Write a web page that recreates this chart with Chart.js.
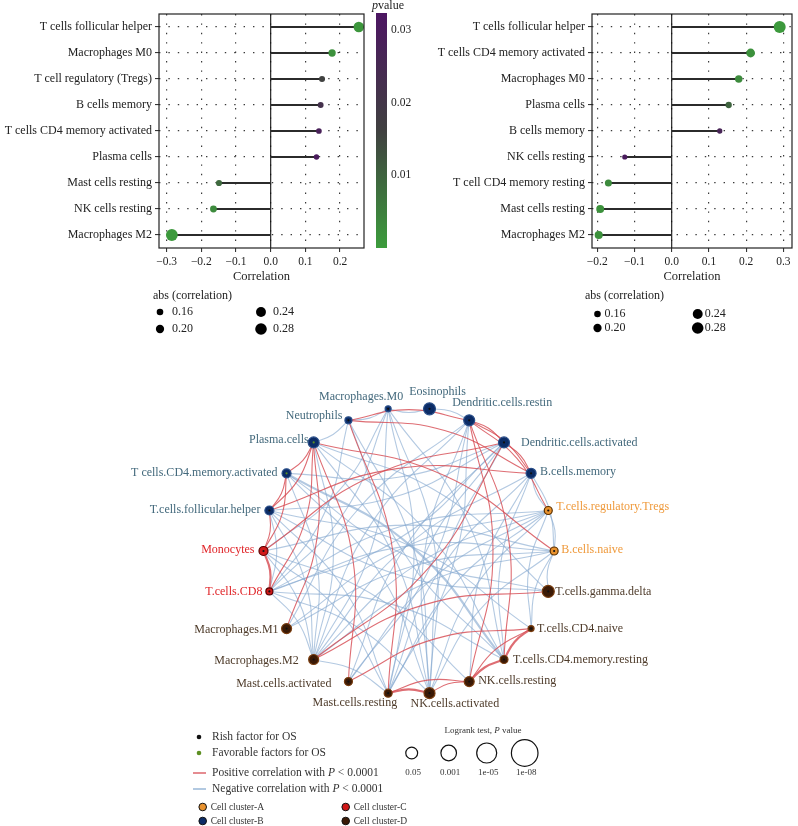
<!DOCTYPE html>
<html><head><meta charset="utf-8">
<script src="https://cdn.jsdelivr.net/npm/chart.js@4/dist/chart.umd.min.js"></script>
<style>
html,body{margin:0;padding:0;background:#fff;width:798px;height:826px;overflow:hidden}
canvas{position:absolute}
#c1{left:0;top:0}#c2{left:400px;top:0}#c3{left:0;top:340px}
</style></head><body>
<canvas id="c1" width="430" height="345"></canvas>
<canvas id="c2" width="398" height="345"></canvas>
<canvas id="c3" width="798" height="486"></canvas>
<script>
// ---------- DATA ----------
const leftCells = ['T cells follicular helper','Macrophages M0','T cell regulatory (Tregs)','B cells memory','T cells CD4 memory activated','Plasma cells','Mast cells resting','NK cells resting','Macrophages M2'];
const leftCorr  = [0.254, 0.177, 0.148, 0.144, 0.139, 0.132, -0.149, -0.165, -0.285];
const leftP     = [0.001, 0.002, 0.016, 0.022, 0.028, 0.030, 0.009, 0.003, 0.0005];

const rightCells = ['T cells follicular helper','T cells CD4 memory activated','Macrophages M0','Plasma cells','B cells memory','NK cells resting','T cell CD4 memory resting','Mast cells resting','Macrophages M2'];
const rightCorr  = [0.290, 0.212, 0.180, 0.153, 0.129, -0.126, -0.170, -0.192, -0.196];
const rightP     = [0.0005, 0.002, 0.003, 0.010, 0.027, 0.030, 0.003, 0.002, 0.002];

const xTicksLeft  = [-0.3, -0.2, -0.1, 0.0, 0.1, 0.2];
const xTicksRight = [-0.2, -0.1, 0.0, 0.1, 0.2, 0.3];
const sizeLegendValues = [0.16, 0.20, 0.24, 0.28];
const pBarTicks = [0.01, 0.02, 0.03];

const nodeKeys = ['Eos','DCrest','DCact','Bmem','Treg','Bnaive','gd','CD4naive','CD4rest','NKrest','NKact','MastRest','MastAct','M2','M1','CD8','Mono','Tfh','CD4act','Plasma','Neut','M0'];
const nodeLabels = ['Eosinophils','Dendritic.cells.restin','Dendritic.cells.activated','B.cells.memory','T.cells.regulatory.Tregs','B.cells.naive','T.cells.gamma.delta','T.cells.CD4.naive','T.cells.CD4.memory.resting','NK.cells.resting','NK.cells.activated','Mast.cells.resting','Mast.cells.activated','Macrophages.M2','Macrophages.M1','T.cells.CD8','Monocytes','T.cells.follicular.helper','T cells.CD4.memory.activated','Plasma.cells','Neutrophils','Macrophages.M0'];
const nodeCluster = ['B','B','B','B','A','A','D','D','D','D','D','D','D','D','D','C','C','B','B','B','B','B'];
const nodeFactor = ['risk','risk','risk','risk','risk','risk','risk','risk','risk','risk','risk','risk','risk','risk','risk','risk','risk','risk','fav','fav','risk','risk'];
const nodeLogrankP = [1e-8,1e-7,1e-7,1e-6,1e-4,1e-4,1e-8,1e-2,1e-4,1e-6,1e-7,1e-4,1e-4,1e-6,1e-6,1e-3,1e-5,1e-5,1e-5,1e-7,1e-3,1e-2];

const positiveEdges = [['Neut','DCrest'],['Neut','Bmem'],['Neut','MastRest'],['Plasma','CD4act'],['Plasma','Tfh'],['Plasma','CD8'],['Plasma','Bnaive'],['Plasma','M1'],['Plasma','MastAct'],['CD4act','Tfh'],['CD4act','Mono'],['Tfh','Mono'],['Tfh','Bmem'],['Mono','CD8'],['Mono','DCact'],['DCrest','DCact'],['DCrest','Bmem'],['DCrest','Treg'],['DCrest','NKrest'],['DCrest','CD4rest'],['DCact','Bmem'],['DCact','M2'],['M2','gd'],['MastRest','NKact'],['MastRest','NKrest'],['NKact','NKrest'],['NKrest','CD4rest'],['CD4rest','CD4naive'],['NKrest','CD4naive'],['MastAct','CD4naive']];
const negativeEdges = [['Eos','M0'],['Eos','DCrest'],['M0','Neut'],['Neut','Plasma'],['M0','Mono'],['M0','M2'],['M0','NKact'],['M0','CD4rest'],['M0','MastRest'],['Neut','CD8'],['Neut','NKact'],['Plasma','M2'],['Plasma','NKact'],['Plasma','gd'],['Plasma','CD4rest'],['CD4act','CD4rest'],['CD4act','M2'],['CD4act','NKact'],['Tfh','M2'],['Tfh','CD4naive'],['Tfh','MastRest'],['Tfh','CD8'],['Mono','M2'],['Mono','Bnaive'],['Mono','NKrest'],['Mono','MastRest'],['CD8','M2'],['CD8','Treg'],['CD8','CD4rest'],['CD8','NKact'],['CD8','Bnaive'],['M1','Treg'],['M1','Bnaive'],['M1','DCrest'],['M2','Treg'],['M2','Bnaive'],['M2','DCrest'],['M2','MastRest'],['M2','Bmem'],['MastAct','DCact'],['MastAct','Treg'],['MastRest','DCact'],['MastRest','Treg'],['MastRest','Bmem'],['NKact','DCact'],['NKact','Bnaive'],['NKact','Treg'],['NKact','DCrest'],['NKrest','Bmem'],['CD4rest','Bmem'],['CD4rest','Neut'],['gd','Bnaive'],['gd','CD4act'],['gd','Tfh'],['CD4naive','Bnaive'],['CD4naive','Treg'],['Treg','Bmem'],['Treg','Bnaive'],['DCrest','MastAct'],['DCrest','MastRest'],['DCact','CD8'],['DCact','Tfh'],['Bmem','Bnaive'],['DCact','CD4act'],['M0','CD8']];
const strongEdges = ['CD4act-CD4rest','Mono-CD8','MastRest-NKact','NKrest-CD4rest','CD4rest-CD4naive'];

const logrankLegendP = [0.05, 0.001, 1e-5, 1e-8];
const logrankLegendLabels = ['0.05','0.001','1e-05','1e-08'];
const clusterNames = ['Cell cluster-A','Cell cluster-B','Cell cluster-C','Cell cluster-D'];

// ---------- STYLE ----------
const SERIF = '"Liberation Serif", "DejaVu Serif", serif';
const PMAX = 0.0324;
const stops = [[0,[60,156,60]],[0.5,[64,64,64]],[1,[76,22,98]]];
function pColor(p){
  let t = Math.max(0, Math.min(1, p / PMAX));
  for (let i=0;i<stops.length-1;i++){
    const [t0,c0]=stops[i],[t1,c1]=stops[i+1];
    if (t<=t1){const f=(t-t0)/(t1-t0);return 'rgb('+c0.map((c,j)=>Math.round(c+(c1[j]-c)*f)).join(',')+')';}
  }
  return 'rgb('+stops[2][1].join(',')+')';
}
function sizeFor(a){ return 3.3 + (a - 0.16) * 20.8; }
function fmtTick(v){ const s = Math.abs(v).toFixed(1); return v < -1e-9 ? '\u2212' + s : s; }

const clusterFill = {A:'#e8922e', B:'#0c2c66', C:'#d01818', D:'#3b1a06'};
const clusterBorder = {A:'#5a3000', B:'#2a4f8a', C:'#5a0000', D:'#7a3e10'};
const clusterText = {A:'#ef9a3c', B:'#43697c', C:'#e02428', D:'#4e3b2a'};
const factorColor = {risk:'#111111', fav:'#5d8f22'};

// ---------- TOP CHARTS ----------
function lollipop(id, cells, corr, pv, xmin, xmax, ticks, yWidth, padRight, extra){
  const ctxEl = document.getElementById(id);
  return new Chart(ctxEl, {
    type:'bar',
    data:{ labels: cells, datasets:[
      { type:'line', data: corr, showLine:false,
        pointRadius: corr.map(v=>sizeFor(Math.abs(v))),
        pointBackgroundColor: pv.map(pColor), pointBorderWidth:0, pointHoverRadius:0 },
      { type:'bar', data: corr.map(v=>[0,v]), backgroundColor:'#2b2b2b', barThickness:1.4, borderWidth:0 }
    ]},
    options:{
      indexAxis:'y', responsive:false, animation:false, events:[],
      plugins:{legend:{display:false}, tooltip:{enabled:false}},
      layout:{padding:{top:14, right:padRight, left:0, bottom:0}},
      scales:{
        x:{ type:'linear', min:xmin, max:xmax,
            afterBuildTicks: s => { s.ticks = ticks.map(v=>({value:v})); },
            afterFit: s => { s.height = 97; },
            grid:{ color:'#3a3a3a', lineWidth:1.2, drawTicks:true, tickLength:4, tickColor:'#222', tickWidth:1 },
            border:{ display:false, dash:[1.4,8] },
            ticks:{ autoSkip:false, maxRotation:0, padding:3, color:'#222', font:{family:SERIF, size:11.5}, callback: v => fmtTick(v) } },
        y:{ type:'category', offset:true,
            afterFit: s => { s.width = yWidth; },
            grid:{ offset:false, color:'#3a3a3a', lineWidth:1.2, drawTicks:true, tickLength:4, tickColor:'#222', tickWidth:1 },
            border:{ display:false, dash:[1.4,8] },
            ticks:{ autoSkip:false, padding:3, color:'#222', font:{family:SERIF, size:12} } }
      }
    },
    plugins:[{
      id:'frame',
      beforeDatasetsDraw(chart){
        const {ctx, chartArea:a, scales:{x}} = chart;
        const zx = x.getPixelForValue(0);
        ctx.save(); ctx.strokeStyle='#111'; ctx.lineWidth=1.1;
        ctx.beginPath(); ctx.moveTo(zx, a.top); ctx.lineTo(zx, a.bottom); ctx.stroke(); ctx.restore();
      },
      afterDraw(chart){
        const {ctx, chartArea:a} = chart;
        ctx.save(); ctx.strokeStyle='#222'; ctx.lineWidth=1.2;
        ctx.strokeRect(a.left, a.top, a.right-a.left, a.bottom-a.top);
        ctx.fillStyle='#222'; ctx.textBaseline='middle';
        ctx.font = '12.5px '+SERIF; ctx.textAlign='center';
        ctx.fillText('Correlation', (a.left+a.right)/2, a.bottom+29);
        ctx.textAlign='left'; ctx.font='12px '+SERIF;
        ctx.fillText('abs (correlation)', extra.legX, 296);
        sizeLegendValues.forEach((v,i)=>{
          const col = Math.floor(i/2), row = i%2;
          const cx = extra.dotX[col], cy = extra.dotY[row];
          ctx.beginPath(); ctx.arc(cx, cy, sizeFor(v), 0, Math.PI*2); ctx.fillStyle='#000'; ctx.fill();
          ctx.fillStyle='#222'; ctx.font='12px '+SERIF;
          ctx.fillText(v.toFixed(2), cx + extra.txtOff, cy);
        });
        if (extra.colorbar){
          const bx=376, bw=11, top=13, bot=248;
          const g = ctx.createLinearGradient(0, bot, 0, top);
          for (let i=0;i<=20;i++){ g.addColorStop(i/20, pColor(PMAX*i/20)); }
          ctx.fillStyle=g; ctx.fillRect(bx, top, bw, bot-top);
          ctx.fillStyle='#222'; ctx.font='11.5px '+SERIF; ctx.textAlign='left';
          pBarTicks.forEach(p=>{ const y = bot - (p/PMAX)*(bot-top); ctx.fillText(p.toFixed(2), bx+bw+4, y); });
          ctx.font='italic 12px '+SERIF; ctx.fillText('p', 372, 6);
          const w = ctx.measureText('p').width;
          ctx.font='12px '+SERIF; ctx.fillText('value', 372+w, 6);
        }
        ctx.restore();
      }
    }]
  });
}

lollipop('c1', leftCells, leftCorr, leftP, -0.322, 0.269, xTicksLeft, 159, 66,
  {legX:153, dotX:[160,261], dotY:[312,329], txtOff:12, colorbar:true});
lollipop('c2', rightCells, rightCorr, rightP, -0.214, 0.323, xTicksRight, 192, 1.5,
  {legX:185, dotX:[197.5,297.7], dotY:[314,328], txtOff:7, colorbar:false});

// ---------- NETWORK ----------
const N = nodeKeys.length;
const pos = nodeKeys.map((k,i)=>{ const th = (i+0.5)*2*Math.PI/N; return {x:Math.sin(th), y:Math.cos(th)}; });
const idx = k => nodeKeys.indexOf(k);
function edgeData(e){
  const A = pos[idx(e[0])], B = pos[idx(e[1])];
  const dx=B.x-A.x, dy=B.y-A.y, c=0.09;
  return [A, {x:(A.x+B.x)/2 - dy*c, y:(A.y+B.y)/2 + dx*c}, B];
}
function edgeDs(e, color){
  const strong = strongEdges.includes(e[0]+'-'+e[1]);
  return { type:'line', data: edgeData(e), showLine:true, tension:0.45, pointRadius:0,
           borderColor: color, borderWidth: strong ? 2.2 : 1.1, fill:false };
}
const nodeRadius = nodeLogrankP.map(p => 2 + 0.5*(-Math.log10(p)));

const CX=409, CY=210, R=148, W=798, H=486;
new Chart(document.getElementById('c3'), {
  type:'scatter',
  data:{ datasets:[
    { data: pos, pointRadius: 1.1, pointBackgroundColor: nodeFactor.map(f=>factorColor[f]), pointBorderWidth:0 },
    { data: pos, pointRadius: nodeRadius, pointBackgroundColor: nodeCluster.map(c=>clusterFill[c]),
      pointBorderColor: nodeCluster.map(c=>clusterBorder[c]), pointBorderWidth:1.2 },
    ...positiveEdges.map(e=>edgeDs(e,'rgba(214,72,80,0.8)')),
    ...negativeEdges.map(e=>edgeDs(e,'rgba(132,168,206,0.62)'))
  ]},
  options:{
    responsive:false, animation:false, events:[],
    plugins:{legend:{display:false}, tooltip:{enabled:false}},
    layout:{padding:0},
    scales:{
      x:{ type:'linear', display:false, min:-CX/R, max:(W-CX)/R },
      y:{ type:'linear', display:false, min:-(H-CY)/R, max:CY/R }
    }
  },
  plugins:[{
    id:'netText',
    afterDraw(chart){
      const ctx = chart.ctx;
      const meta = chart.getDatasetMeta(1);
      // label placement (style): [dx, dy, align]
      const place = {
        Eos:[8,-17,'center'], DCrest:[-17,-17,'left'], DCact:[17,0,'left'], Bmem:[9,-1,'left'],
        Treg:[8,-4,'left'], Bnaive:[7,-1,'left'], gd:[7,0,'left'], CD4naive:[6,0,'left'],
        CD4rest:[9,0,'left'], NKrest:[9,-1,'left'], NKact:[-19,11,'left'], MastRest:[9,10,'right'],
        MastAct:[-17,2,'right'], M2:[-15,1,'right'], M1:[-8,1,'right'], CD8:[-7,0,'right'],
        Mono:[-9,-1,'right'], Tfh:[-9,-1,'right'], CD4act:[-9,0,'right'], Plasma:[-5,-3,'right'],
        Neut:[-6,-4,'right'], M0:[-27,-12,'center']
      };
      ctx.save();
      ctx.textBaseline='middle'; ctx.font='12px '+SERIF;
      meta.data.forEach((pt,i)=>{
        const [dx,dy,al] = place[nodeKeys[i]];
        ctx.textAlign = al; ctx.fillStyle = clusterText[nodeCluster[i]];
        ctx.fillText(nodeLabels[i], pt.x+dx, pt.y+dy);
      });
      // legend
      const oy = -340;
      ctx.textAlign='left'; ctx.fillStyle='#333'; ctx.font='11.5px '+SERIF;
      ctx.beginPath(); ctx.arc(199, 737+oy, 2.3, 0, 2*Math.PI); ctx.fillStyle=factorColor.risk; ctx.fill();
      ctx.beginPath(); ctx.arc(199, 753+oy, 2.3, 0, 2*Math.PI); ctx.fillStyle=factorColor.fav; ctx.fill();
      ctx.fillStyle='#333';
      ctx.fillText('Rish factor for OS', 212, 737+oy);
      ctx.fillText('Favorable factors for OS', 212, 753+oy);
      ctx.lineWidth=1.4;
      ctx.strokeStyle='rgba(214,72,80,0.9)'; ctx.beginPath(); ctx.moveTo(193,773+oy); ctx.lineTo(206,773+oy); ctx.stroke();
      ctx.strokeStyle='rgba(132,168,206,0.9)'; ctx.beginPath(); ctx.moveTo(193,789+oy); ctx.lineTo(206,789+oy); ctx.stroke();
      const mixed = (parts, x, y) => { let cx=x; parts.forEach(([t,it])=>{ ctx.font=(it?'italic ':'')+'11.5px '+SERIF; ctx.fillText(t,cx,y); cx+=ctx.measureText(t).width; }); };
      mixed([['Positive correlation with ',0],['P',1],[' < 0.0001',0]], 212, 773+oy);
      mixed([['Negative correlation with ',0],['P',1],[' < 0.0001',0]], 212, 789+oy);
      const cl = ['A','B','C','D'];
      const clPos = [[202.7,807],[202.7,821],[345.7,807],[345.7,821]];
      cl.forEach((c,i)=>{
        const [x,y] = clPos[i];
        ctx.beginPath(); ctx.arc(x, y+oy, 3.8, 0, 2*Math.PI); ctx.fillStyle=clusterFill[c]; ctx.fill();
        ctx.strokeStyle='#111'; ctx.lineWidth=1; ctx.stroke();
        ctx.fillStyle='#333'; ctx.font='9.5px '+SERIF; ctx.fillText(clusterNames[i], x+8, y+oy);
      });
      // logrank legend
      ctx.fillStyle='#333';
      const tt = [['Logrank test, ',0],['P',1],[' value',0]];
      let tw=0; tt.forEach(([t,it])=>{ctx.font=(it?'italic ':'')+'9px '+SERIF; tw+=ctx.measureText(t).width;});
      ctx.textAlign='left'; let sx = 483 - tw/2;
      tt.forEach(([t,it])=>{ctx.font=(it?'italic ':'')+'9px '+SERIF; ctx.fillText(t,sx,731+oy); sx+=ctx.measureText(t).width;});
      const lx = [411.7, 448.7, 486.7, 524.7];
      logrankLegendP.forEach((p,i)=>{
        const r = 4.5 + 1.1*(-Math.log10(p));
        ctx.beginPath(); ctx.arc(lx[i], 753+oy, r, 0, 2*Math.PI); ctx.strokeStyle='#111'; ctx.lineWidth=1.2; ctx.stroke();
        ctx.textAlign='center'; ctx.fillStyle='#333'; ctx.font='9px '+SERIF;
        ctx.fillText(logrankLegendLabels[i], lx[i]+1.5, 773+oy);
      });
      ctx.restore();
    }
  }]
});
</script>
</body></html>
